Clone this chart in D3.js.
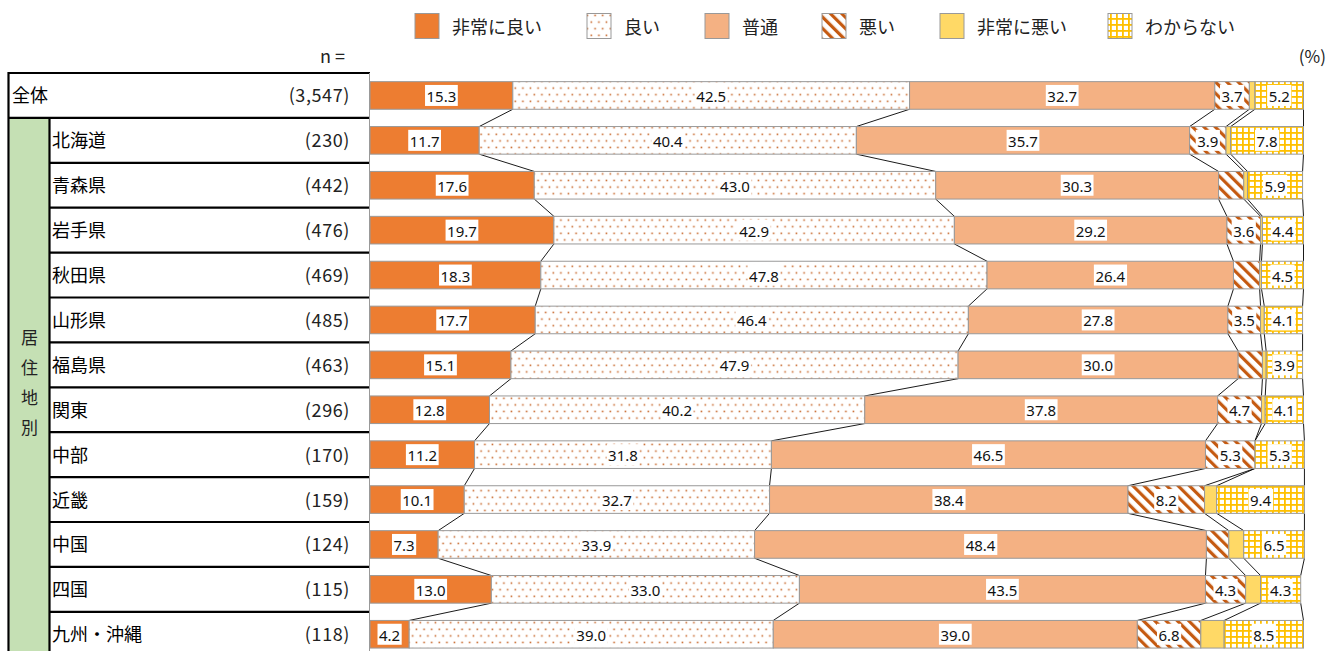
<!DOCTYPE html>
<html><head><meta charset="utf-8">
<script src="https://cdn.jsdelivr.net/npm/d3@7"></script>
<style>
body{margin:0;background:#fff;}
svg{display:block;}
</style></head>
<body>
<svg id="chart" width="1329" height="651"></svg>
<script>
// ---- data ----
const categories = ["全体","北海道","青森県","岩手県","秋田県","山形県","福島県","関東","中部","近畿","中国","四国","九州・沖縄"];
const nLabels = ["(3,547)","(230)","(442)","(476)","(469)","(485)","(463)","(296)","(170)","(159)","(124)","(115)","(118)"];
const seriesNames = ["非常に良い","良い","普通","悪い","非常に悪い","わからない"];
const veryGood = [15.3,11.7,17.6,19.7,18.3,17.7,15.1,12.8,11.2,10.1,7.3,13.0,4.2];
const good     = [42.5,40.4,43.0,42.9,47.8,46.4,47.9,40.2,31.8,32.7,33.9,33.0,39.0];
const normal   = [32.7,35.7,30.3,29.2,26.4,27.8,30.0,37.8,46.5,38.4,48.4,43.5,39.0];
const bad      = [3.7,3.9,2.7,3.6,2.8,3.5,2.6,4.7,5.3,8.2,2.4,4.3,6.8];
const veryBad  = [0.6,0.5,0.4,0.2,0.2,0.4,0.4,0.4,0.0,1.3,1.6,1.6,2.5];
const dontKnow = [5.2,7.8,5.9,4.4,4.5,4.1,3.9,4.1,5.3,9.4,6.5,4.3,8.5];
const groupLabel = "居住地別";

const seriesValues = [veryGood, good, normal, bad, veryBad, dontKnow];
const table = categories.map((c,i)=>{
  const o = {cat:c};
  seriesNames.forEach((s,k)=>o[s]=seriesValues[k][i]);
  return o;
});

const svg = d3.select("#chart");
const FONT = "'Noto Sans CJK JP','Noto Sans',sans-serif";
const NUMFONT = "'Noto Sans','Liberation Sans',sans-serif";

// ---- patterns ----
const defs = svg.append("defs");
const pd2 = defs.append("pattern").attr("id","p-dots").attr("patternUnits","userSpaceOnUse")
  .attr("width",15.2).attr("height",13.2);
pd2.append("rect").attr("width",15.2).attr("height",13.2).attr("fill","#fff");
[[1.5,1.5],[9.1,1.5],[5.3,8.1],[12.9,8.1]].forEach(([px,py])=>
  pd2.append("rect").attr("x",px).attr("y",py).attr("width",1.6).attr("height",1.6).attr("fill","#C96A2E"));
[[1.5,4.8],[9.1,11.4]].forEach(()=>{});

const ps = defs.append("pattern").attr("id","p-stripes").attr("patternUnits","userSpaceOnUse")
  .attr("width",8).attr("height",8).attr("patternTransform","rotate(-45)");
ps.append("rect").attr("width",8).attr("height",8).attr("fill","#fff");
ps.append("rect").attr("width",3.2).attr("height",8).attr("fill","#C55A11");

const pg = defs.append("pattern").attr("id","p-grid").attr("patternUnits","userSpaceOnUse")
  .attr("width",6).attr("height",6);
pg.append("rect").attr("width",6).attr("height",6).attr("fill","#fff");
pg.append("rect").attr("x",0).attr("y",0).attr("width",1.8).attr("height",6).attr("fill","#FFC000");
pg.append("rect").attr("x",0).attr("y",0).attr("width",6).attr("height",1.8).attr("fill","#FFC000");

const fills = ["#ED7D31","url(#p-dots)","#F4B183","url(#p-stripes)","#FFD966","url(#p-grid)"];
const color = d3.scaleOrdinal().domain(seriesNames).range(fills);

// ---- scales ----
const x = d3.scaleLinear().domain([0,100]).range([370,1303.5]);
const rowTop = 73, pitch = 44.9;
const y = d3.scaleBand().domain(categories).range([rowTop, rowTop+pitch*categories.length])
  .paddingInner(0.385).paddingOuter(0.1925);

const stack = d3.stack().keys(seriesNames);
const stacked = stack(table);

// ---- table on left ----
const tbl = svg.append("g");
tbl.append("rect").attr("x",9.5).attr("y",y.step()+rowTop).attr("width",40).attr("height",651).attr("fill","#C5E0B4");
categories.forEach((c,i)=>{
  const top = rowTop + i*pitch;
  tbl.append("line").attr("x1", i<=1 ? 8 : 49.5).attr("x2",370).attr("y1",top).attr("y2",top)
    .attr("stroke","#000").attr("stroke-width",2.2);
  tbl.append("text").attr("x", i===0 ? 12 : 52).attr("y", top+pitch/2-1)
    .attr("dominant-baseline","central").attr("font-family",FONT).attr("font-size",18).attr("fill","#000").text(c);
  tbl.append("text").attr("x",350).attr("y", top+pitch/2-1).attr("text-anchor","end")
    .attr("dominant-baseline","central").attr("font-family",FONT).attr("font-size",18)
    .attr("letter-spacing","0.6px").attr("fill","#222").text(nLabels[i]);
});
tbl.append("line").attr("x1",8.5).attr("x2",8.5).attr("y1",rowTop-1).attr("y2",651).attr("stroke","#000").attr("stroke-width",2.2);
tbl.append("line").attr("x1",49.5).attr("x2",49.5).attr("y1",rowTop+pitch).attr("y2",651).attr("stroke","#000").attr("stroke-width",2.2);
tbl.append("line").attr("x1",369.5).attr("x2",369.5).attr("y1",rowTop).attr("y2",651).attr("stroke","#999").attr("stroke-width",1);

// vertical group label
const gl = tbl.append("text").attr("font-family",FONT).attr("font-size",17).attr("fill","#222").attr("text-anchor","middle");
groupLabel.split("").forEach((ch,k)=>{
  gl.append("tspan").attr("x",29.5).attr("y",344 + k*30).text(ch);
});

svg.append("text").attr("x",345).attr("y",63).attr("text-anchor","end").attr("font-family",FONT).attr("font-size",18).attr("fill","#222").text("n =");
svg.append("text").attr("x",1326).attr("y",63).attr("text-anchor","end").attr("font-family",FONT).attr("font-size",17).attr("fill","#222").text("(%)");

// ---- connectors ----
const conn = svg.append("g");
for(let i=0;i<categories.length-1;i++){
  for(let k=0;k<seriesNames.length;k++){
    const a = stacked[k][i][1], b = stacked[k][i+1][1];
    conn.append("line")
      .attr("x1",x(a)).attr("y1",y(categories[i])+y.bandwidth())
      .attr("x2",x(b)).attr("y2",y(categories[i+1]))
      .attr("stroke","#000").attr("stroke-width",0.9);
  }
}

// ---- bars ----
const bars = svg.append("g");
stacked.forEach((layer)=>{
  bars.append("g").selectAll("rect").data(layer).join("rect")
    .attr("x",d=>x(d[0])).attr("width",d=>Math.max(0,x(d[1])-x(d[0])))
    .attr("y",d=>y(d.data.cat)).attr("height",y.bandwidth())
    .attr("fill",color(layer.key))
    .attr("stroke", d=> (d[1]-d[0])>0 ? "#999" : "none").attr("stroke-width",1);
});

// ---- labels ----
const lab = svg.append("g");
stacked.forEach((layer)=>{
  layer.forEach(d=>{
    const v = d[1]-d[0];
    if(v < 3) return;
    const cx = x((d[0]+d[1])/2), cy = y(d.data.cat)+y.bandwidth()/2;
    const g = lab.append("g");
    const t = g.append("text").attr("x",cx).attr("y",cy+0.5).attr("text-anchor","middle")
      .attr("dominant-baseline","central").attr("font-family",NUMFONT).attr("font-size",15)
      .attr("fill","#111").text(d3.format(".1f")(v));
    const bb = t.node().getBBox();
    g.insert("rect","text").attr("x",bb.x-1.5).attr("y",cy-10.5).attr("width",bb.width+3).attr("height",21).attr("fill","#fff");
  });
});

// ---- legend ----
const legX = [415,587,705,822,940,1108];
const leg = svg.append("g");
seriesNames.forEach((s,k)=>{
  leg.append("rect").attr("x",legX[k]).attr("y",13.5).attr("width",24).attr("height",25)
    .attr("fill",color(s)).attr("stroke","#999").attr("stroke-width",1);
  leg.append("text").attr("x",legX[k]+37).attr("y",25.5).attr("dominant-baseline","central")
    .attr("font-family",FONT).attr("font-size",18).attr("fill","#222").text(s);
});
</script>
</body></html>
